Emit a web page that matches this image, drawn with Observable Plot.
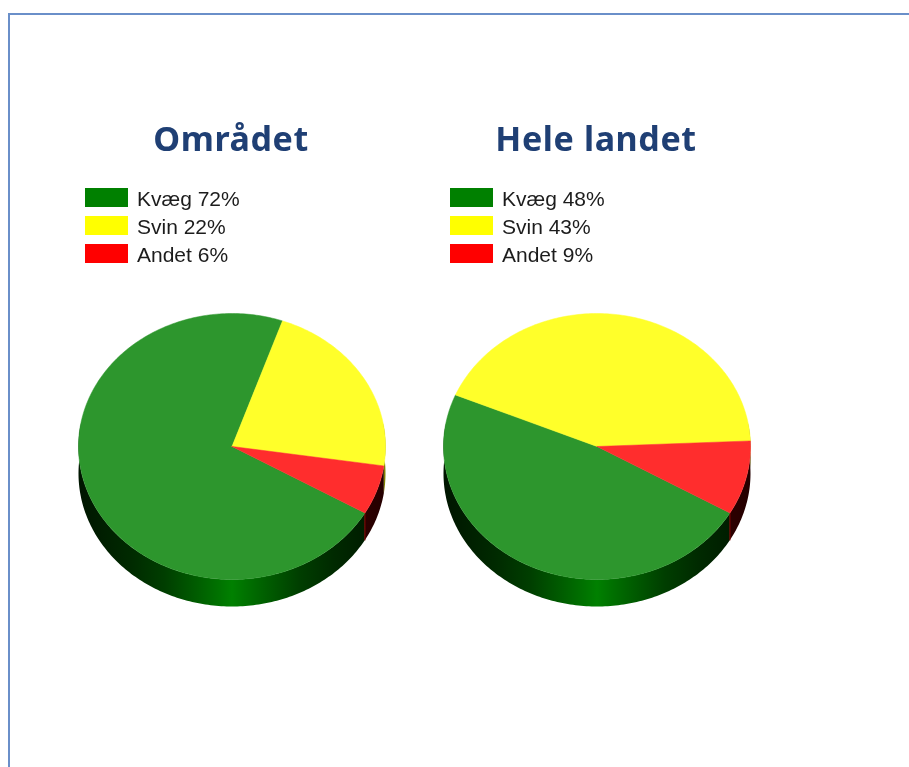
<!DOCTYPE html>
<html lang="da">
<head>
<meta charset="utf-8">
<script src="https://cdn.jsdelivr.net/npm/d3@7"></script>
<script src="https://cdn.jsdelivr.net/npm/@observablehq/plot@0.6"></script>
<style>
  html, body { margin: 0; padding: 0; background: #fff; width: 909px; height: 767px; overflow: hidden; }
  #frame { position: absolute; left: 8px; top: 13px; width: 901px; height: 754px; box-sizing: border-box;
           border-left: 2px solid #6a8fc9; border-top: 2px solid #6a8fc9; }
  .col { position: absolute; top: 0; width: 365px; height: 767px; }
  .col h2 { position: absolute; left: -1px; width: 365px; top: 116px; margin: 0; text-align: center;
            font: 700 34px/44px "Noto Sans", sans-serif; color: #1f3f74; letter-spacing: .6px; filter: blur(.4px); }
  .legend { position: absolute; left: 35.5px; top: 188px; font: 21px/21px "Liberation Sans", Arial, sans-serif; color: #1c1c1c; filter: blur(.4px); }
  .legend div { height: 19px; margin-bottom: 9px; white-space: nowrap; }
  .legend i { display: inline-block; width: 43px; height: 19px; margin-right: 9px; vertical-align: top; }
  .col svg, .col figure { position: absolute; left: -.75px; top: 290px; margin: 0; }
  svg { filter: blur(.35px); }
</style>
</head>
<body>
<div id="frame"></div>
<div id="root"></div>
<script>
const categories = ["Kvæg", "Svin", "Andet"];
const titles = ["Området", "Hele landet"];
const omraadet = [72, 22, 6];
const heleLandet = [48, 43, 9];
const legendColors = ["#008000", "#ffff00", "#ff0000"];
const topColors = ["#2d962d", "#ffff2a", "#ff2d2d"];
const sideBright = ["#008000", "#a0a000", "#900000"];
const sideDark = ["#001500", "#808000", "#240000"];
const startAngle = 120;   // degrees clockwise from north
const depth = 27 / 133;   // side height in units of the vertical radius
const gradientStops = [[0, 0], [.17, .2], [.28, .38], [.39, .68], [.46, .88], [.5, 1], [.54, .88], [.61, .68], [.72, .38], [.83, .2], [1, 0]];

function wedges(values) {
  let a = startAngle;
  return values.map((v, i) => {
    const a0 = a, a1 = a + v * 3.6;
    a = a1;
    return {i, a0, a1};
  });
}
function arcPoints(a0, a1, dy = 0) {
  const n = Math.max(2, Math.ceil(Math.abs(a1 - a0)));
  return d3.range(n + 1).map(k => {
    const t = (a0 + (a1 - a0) * k / n) * Math.PI / 180;
    return {x: Math.sin(t), y: Math.cos(t) - dy};
  });
}
function sidePolygon(w) {
  // only the front of the cylinder can be seen
  const turn = w.a1 > 440 ? 360 : 0;
  const lo = Math.max(w.a0 - turn, 80), hi = Math.min(w.a1 - turn, 280);
  if (hi <= lo) return [];
  return [...arcPoints(lo, hi), ...arcPoints(hi, lo, depth)];
}
function pie(values, id) {
  const ws = wedges(values);
  const defs = (index, {x}) => {
    const g = d3.create("svg:defs");
    ws.forEach(w => {
      const lg = g.append("linearGradient").attr("id", `${id}-${w.i}`)
        .attr("gradientUnits", "userSpaceOnUse")
        .attr("x1", x(-1)).attr("x2", x(1)).attr("y1", 0).attr("y2", 0);
      const mix = d3.interpolateRgb(sideDark[w.i], sideBright[w.i]);
      gradientStops.forEach(([o, t]) => lg.append("stop").attr("offset", o).attr("stop-color", mix(t)));
    });
    return g.node();
  };
  const sides = [2, 1, 0].map(i =>
    Plot.line(sidePolygon(ws[i]), {x: "x", y: "y", fill: `url(#${id}-${i})`, stroke: "none"}));
  const seam = Plot.line([arcPoints(startAngle, startAngle)[0], arcPoints(startAngle, startAngle, depth)[0]],
    {x: "x", y: "y", stroke: "#8a0000", strokeWidth: 1});
  const tops = ws.map(w => Plot.line([{x: 0, y: 0}, ...arcPoints(w.a0, w.a1), {x: 0, y: 0}],
    {x: "x", y: "y", fill: topColors[w.i], stroke: topColors[w.i], strokeWidth: .5}));
  return Plot.plot({
    width: 365, height: 340, margin: 0,
    x: {domain: [-182.5 / 153.5, 182.5 / 153.5], axis: null},
    y: {domain: [-(340 - 156) / 133, 156 / 133], axis: null},
    marks: [defs, ...sides, seam, ...tops]
  });
}
[[omraadet, 49.5], [heleLandet, 414.5]].forEach(([values, left], k) => {
  const col = d3.select("#root").append("div").attr("class", "col").style("left", left + "px");
  col.append("h2").text(titles[k]);
  const leg = col.append("div").attr("class", "legend");
  categories.forEach((c, i) => {
    const row = leg.append("div");
    row.append("i").style("background", legendColors[i]);
    row.append("span").text(`${c} ${values[i]}%`);
  });
  col.node().append(pie(values, "p" + k));
});
</script>
</body>
</html>
